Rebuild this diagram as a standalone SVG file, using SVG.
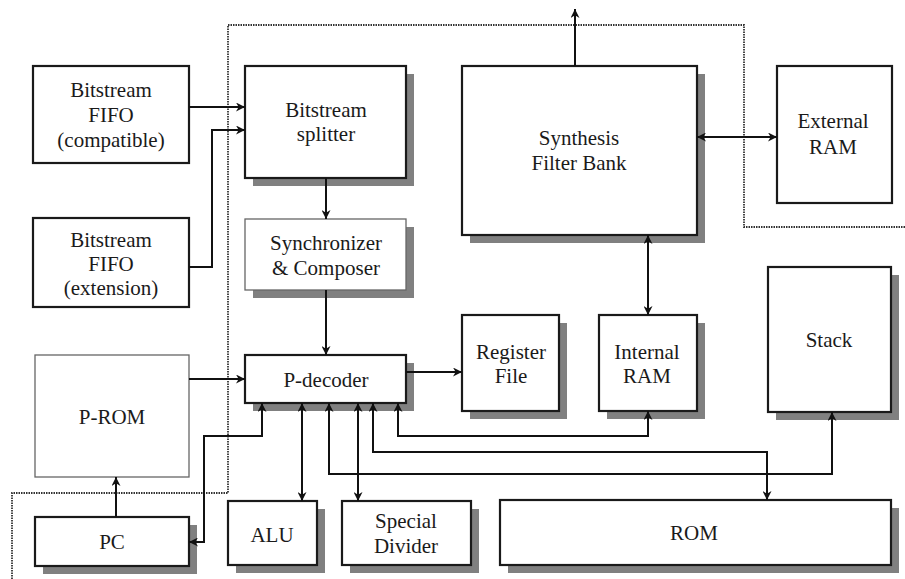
<svg xmlns="http://www.w3.org/2000/svg" width="905" height="579" viewBox="0 0 905 579" font-family="'Liberation Serif', 'DejaVu Serif', serif">
<style>
.box{fill:#fff;stroke:#1a1a1a;stroke-width:2.2}
.thin{fill:#fff;stroke:#666;stroke-width:1.3}
.sh{fill:#808080}
.t{font-family:'Liberation Serif','DejaVu Serif',serif;font-size:21px;fill:#1a1a1a;text-anchor:middle}
.c{fill:none;stroke:#111;stroke-width:2}
.d{fill:none;stroke:#333;stroke-width:1.8;stroke-dasharray:1.5 1}
</style>
<defs>
<marker id="a" viewBox="0 0 10 10" refX="10" refY="5" markerWidth="10" markerHeight="9" markerUnits="userSpaceOnUse" orient="auto-start-reverse">
<path d="M0,0 L10,5 L0,10 L3,5 z" fill="#111"/>
</marker>
</defs>
<rect width="905" height="579" fill="#fff"/>
<path class="d" d="M905,227 H744 V25 H228 V493 H12 V579"/>
<g id="fifo-compat"><rect class="box" x="33" y="66" width="156" height="97"/><text class="t" x="111" y="97">Bitstream</text><text class="t" x="111" y="122">FIFO</text><text class="t" x="111" y="147">(compatible)</text></g>
<g id="fifo-ext"><rect class="box" x="33" y="218" width="156" height="89"/><text class="t" x="111" y="247">Bitstream</text><text class="t" x="111" y="271">FIFO</text><text class="t" x="111" y="295">(extension)</text></g>
<g id="splitter"><rect class="sh" x="253" y="74" width="161" height="112"/><rect class="box" x="245" y="66" width="161" height="112"/><text class="t" x="326" y="117">Bitstream</text><text class="t" x="326" y="141">splitter</text></g>
<g id="sync"><rect class="sh" x="253" y="227" width="161" height="71"/><rect class="thin" x="245" y="219" width="161" height="71"/><text class="t" x="326" y="250">Synchronizer</text><text class="t" x="326" y="275">&amp; Composer</text></g>
<g id="sfb"><rect class="sh" x="470" y="74" width="235" height="169"/><rect class="box" x="462" y="66" width="235" height="169"/><text class="t" x="579" y="145">Synthesis</text><text class="t" x="579" y="170">Filter Bank</text></g>
<g id="ext-ram"><rect class="box" x="777" y="66" width="115" height="137"/><text class="t" x="833" y="128">External</text><text class="t" x="833" y="154">RAM</text></g>
<g id="prom"><rect class="thin" x="35" y="355" width="154" height="122"/><text class="t" x="112" y="424">P-ROM</text></g>
<g id="pdecoder"><rect class="sh" x="253" y="363" width="161" height="48"/><rect class="box" x="245" y="355" width="161" height="48"/><text class="t" x="326" y="387">P-decoder</text></g>
<g id="regfile"><rect class="sh" x="470" y="323" width="97" height="96"/><rect class="box" x="462" y="315" width="97" height="96"/><text class="t" x="511" y="359">Register</text><text class="t" x="511" y="383">File</text></g>
<g id="int-ram"><rect class="sh" x="607" y="323" width="98" height="96"/><rect class="box" x="599" y="315" width="98" height="96"/><text class="t" x="647" y="359">Internal</text><text class="t" x="647" y="383">RAM</text></g>
<g id="stack"><rect class="sh" x="776" y="275" width="123" height="145"/><rect class="box" x="768" y="267" width="123" height="145"/><text class="t" x="829" y="347">Stack</text></g>
<g id="pc"><rect class="sh" x="43" y="525" width="154" height="49"/><rect class="box" x="35" y="517" width="154" height="49"/><text class="t" x="112" y="549">PC</text></g>
<g id="alu"><rect class="sh" x="236" y="509" width="89" height="64"/><rect class="box" x="228" y="501" width="89" height="64"/><text class="t" x="272" y="542">ALU</text></g>
<g id="divider"><rect class="sh" x="350" y="509" width="129" height="64"/><rect class="box" x="342" y="501" width="129" height="64"/><text class="t" x="406" y="528">Special</text><text class="t" x="406" y="553">Divider</text></g>
<g id="rom"><rect class="sh" x="508" y="508" width="391" height="65"/><rect class="box" x="500" y="500" width="391" height="65"/><text class="t" x="694" y="540">ROM</text></g>
<g id="connectors">
<path class="c" marker-end="url(#a)" d="M189,107 H245"/>
<path class="c" marker-end="url(#a)" d="M189,267 H212 V130 H245"/>
<path class="c" marker-end="url(#a)" d="M326,178 V219"/>
<path class="c" marker-end="url(#a)" d="M326,290 V355"/>
<path class="c" marker-end="url(#a)" d="M189,379 H245"/>
<path class="c" marker-end="url(#a)" d="M406,372 H462"/>
<path class="c" marker-start="url(#a)" marker-end="url(#a)" d="M697,137 H777"/>
<path class="c" marker-start="url(#a)" marker-end="url(#a)" d="M648,315 V235"/>
<path class="c" marker-end="url(#a)" d="M575,66 V9"/>
<path class="c" marker-end="url(#a)" d="M116,517 V477"/>
<path class="c" marker-start="url(#a)" marker-end="url(#a)" d="M262,403 V436 H204 V542 H189"/>
<path class="c" marker-start="url(#a)" marker-end="url(#a)" d="M302,403 V501"/>
<path class="c" marker-start="url(#a)" marker-end="url(#a)" d="M358,403 V501"/>
<path class="c" marker-start="url(#a)" marker-end="url(#a)" d="M329,403 V474 H832 V412"/>
<path class="c" marker-start="url(#a)" marker-end="url(#a)" d="M373,403 V452 H767 V500"/>
<path class="c" marker-start="url(#a)" marker-end="url(#a)" d="M398,403 V436 H648 V411"/>
</g>
</svg>
